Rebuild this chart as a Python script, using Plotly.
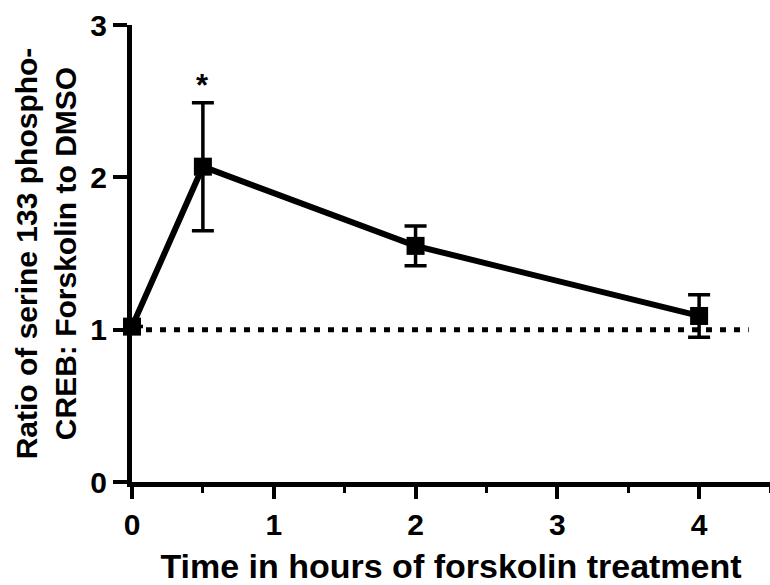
import plotly.graph_objects as go

# Time course of CREB Ser133 phosphorylation after forskolin
hours = [0, 0.5, 2, 4]
ratio = [1.02, 2.07, 1.55, 1.09]
sem = [0.0, 0.42, 0.13, 0.14]
baseline = 1.0
baseline_span = [0, 4.35]
sig_hours = [0.5]
sig_marks = ["*"]
sig_height = [2.6]

font_family = "Liberation Sans, Arial, sans-serif"

fig = go.Figure()

# Reference line: ratio of 1 (no change vs DMSO)
fig.add_trace(go.Scatter(
    x=baseline_span, y=[baseline, baseline], mode="lines",
    line=dict(color="black", width=5, dash="6px,8px"),
    hoverinfo="skip", showlegend=False,
))

fig.add_trace(go.Scatter(
    x=hours, y=ratio, mode="lines+markers",
    line=dict(color="black", width=6),
    marker=dict(symbol="square", size=18, color="black"),
    error_y=dict(type="data", array=sem, visible=True,
                 color="black", thickness=3.5, width=11),
    showlegend=False, cliponaxis=False,
))

for xh, txt, yh in zip(sig_hours, sig_marks, sig_height):
    fig.add_annotation(x=xh, y=yh, text=txt, showarrow=False,
                       font=dict(family=font_family, size=31, color="black",
                                 weight="bold"))

tick_font = dict(family=font_family, size=30, color="black", weight="bold")
xtitle_font = dict(family=font_family, size=34, color="black", weight="bold")
ytitle_font = dict(family=font_family, size=30, color="black", weight="bold")

fig.update_layout(
    width=770, height=585,
    margin=dict(l=132, r=0, t=25, b=103),
    plot_bgcolor="white", paper_bgcolor="white",
    font=tick_font,
    xaxis=dict(
        range=[0, 4.5], tickvals=[0, 1, 2, 3, 4],
        showline=True, linecolor="black", linewidth=5,
        ticks="outside", ticklen=12, tickwidth=4, tickcolor="black",
        minor=dict(dtick=0.5, tick0=0, ticks="outside", ticklen=6,
                   tickwidth=3, tickcolor="black"),
        showgrid=False, zeroline=False,
        tickfont=tick_font,
        title=dict(text="Time in hours of forskolin treatment",
                   font=xtitle_font, standoff=17),
    ),
    yaxis=dict(
        range=[0, 3], tickvals=[0, 1, 2, 3],
        showline=True, linecolor="black", linewidth=5,
        ticks="outside", ticklen=14, tickwidth=4, tickcolor="black",
        showgrid=False, zeroline=False,
        tickfont=tick_font,
        title=dict(text="Ratio of serine 133 phospho-<br>CREB: Forskolin to DMSO",
                   font=ytitle_font, standoff=6),
    ),
)

fig.write_html("out.html")
